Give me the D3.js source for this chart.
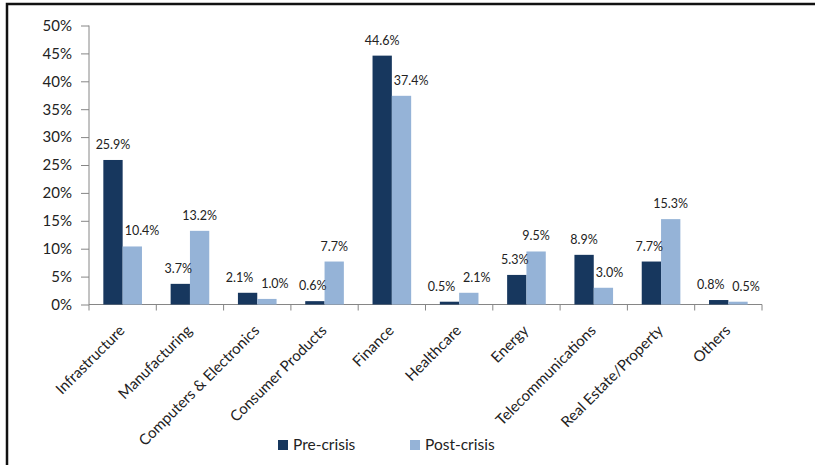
<!DOCTYPE html>
<html>
<head>
    <title>Pre-crisis vs Post-crisis by sector</title>
    <script src="https://d3js.org/d3.v7.min.js"></script>
    <style>
        body { margin: 0; background: #fff; }
        text { font-family: Lato, "Open Sans", sans-serif; fill: #222; }
    </style>
</head>
<body>
    <div id="chart"></div>

    <script>
        // Data
        const sectors = ["Infrastructure", "Manufacturing", "Computers & Electronics", "Consumer Products",
                         "Finance", "Healthcare", "Energy", "Telecommunications", "Real Estate/Property", "Others"];
        const preCrisis  = [25.9, 3.7, 2.1, 0.6, 44.6, 0.5, 5.3, 8.9, 7.7, 0.8];
        const postCrisis = [10.4, 13.2, 1.0, 7.7, 37.4, 2.1, 9.5, 3.0, 15.3, 0.5];
        const seriesNames = ["Pre-crisis", "Post-crisis"];
        const yTicks = [0, 5, 10, 15, 20, 25, 30, 35, 40, 45, 50];

        const W = 815, H = 465;
        const margin = { top: 25.5, left: 89, right: 53, bottom: 160.5 };
        const colors = ["#17375E", "#95B3D7"];

        const svg = d3.select("#chart").append("svg")
            .attr("width", W).attr("height", H);

        // outer frame
        svg.append("rect")
            .attr("x", 7).attr("y", 4)
            .attr("width", W + 10).attr("height", H + 10)
            .attr("fill", "none").attr("stroke", "#111").attr("stroke-width", 2.5);

        const x0 = d3.scaleBand()
            .domain(sectors)
            .range([margin.left, W - margin.right]);
        const bw = x0.bandwidth();
        const x1 = d3.scaleBand()
            .domain(seriesNames)
            .range([bw * 0.213, bw * 0.787]);
        const y = d3.scaleLinear()
            .domain([0, 50])
            .range([H - margin.bottom, margin.top]);

        // y axis
        const yAxis = svg.append("g")
            .attr("transform", `translate(${margin.left},0)`)
            .call(d3.axisLeft(y).tickValues(yTicks).tickSize(8).tickPadding(9)
                .tickFormat(d => d + "%"));
        yAxis.selectAll("line, path").attr("stroke", "#868686");
        yAxis.select(".domain").attr("d", `M0,${y(0)}V${y(50)}`);
        yAxis.selectAll("text").style("font-size", "15px").attr("fill", "#222");

        // x axis (ticks on band boundaries)
        const xAxis = svg.append("g");
        xAxis.append("line")
            .attr("x1", margin.left).attr("x2", W - margin.right)
            .attr("y1", y(0)).attr("y2", y(0))
            .attr("stroke", "#868686");
        xAxis.selectAll(".tk")
            .data(sectors.map(s => x0(s)).concat([x0(sectors[sectors.length - 1]) + bw]))
            .enter().append("line")
            .attr("x1", d => d).attr("x2", d => d)
            .attr("y1", y(0)).attr("y2", y(0) + 6)
            .attr("stroke", "#868686");

        xAxis.selectAll(".lbl")
            .data(sectors)
            .enter().append("text")
            .attr("transform", d => `translate(${x0(d) + bw / 2 + 3},${y(0) + 27}) rotate(-45)`)
            .attr("text-anchor", "end")
            .style("font-size", "15px")
            .text(d => d);

        // bars
        const rows = sectors.map((s, i) => ({ sector: s, vals: [preCrisis[i], postCrisis[i]] }));
        const groups = svg.selectAll(".grp")
            .data(rows)
            .enter().append("g")
            .attr("transform", d => `translate(${x0(d.sector)},0)`);

        groups.selectAll("rect")
            .data(d => d.vals.map((v, j) => ({ v: v, s: seriesNames[j], j: j })))
            .enter().append("rect")
            .attr("x", d => x1(d.s))
            .attr("y", d => y(d.v))
            .attr("width", x1.bandwidth())
            .attr("height", d => y(0) - y(d.v))
            .attr("fill", d => colors[d.j]);

        // value labels: centred, but moved off the neighbouring bar or label
        const bwi = x1.bandwidth();
        groups.each(function (d) {
            const g = d3.select(this);
            const close = Math.abs(y(d.vals[0]) - y(d.vals[1])) < 14;
            d.vals.forEach((v, j) => {
                const t = g.append("text")
                    .attr("y", y(v) - 11)
                    .attr("text-anchor", "middle")
                    .style("font-size", "12.5px")
                    .text(v.toFixed(1) + "%");
                const tw = t.node().getComputedTextLength();
                const left = x1(seriesNames[j]);
                let cx = left + bwi / 2;
                const other = d.vals[1 - j];
                if (close) {
                    cx += j === 0 ? -8 : 8;
                } else if (y(other) < y(v) - 11) {
                    // neighbour bar is taller than this label's baseline
                    cx = j === 0 ? Math.min(cx, left + bwi + 2 - tw / 2)
                                 : Math.max(cx, left + 2 + tw / 2);
                }
                t.attr("x", cx);
            });
        });

        // legend
        const legendX = [278, 410];
        const legend = svg.selectAll(".legend")
            .data(seriesNames)
            .enter().append("g")
            .attr("transform", (d, i) => `translate(${legendX[i]},440)`);
        legend.append("rect")
            .attr("width", 10).attr("height", 10)
            .attr("fill", (d, i) => colors[i]);
        legend.append("text")
            .attr("x", 15).attr("y", 10)
            .style("font-size", "15.5px")
            .text(d => d);
    </script>
</body>
</html>
